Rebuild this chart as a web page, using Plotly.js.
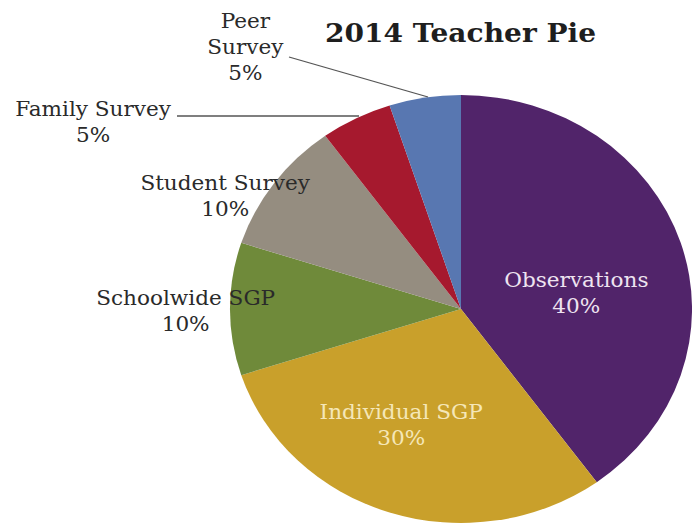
<!DOCTYPE html>
<html>
<head>
<meta charset="utf-8">
<script src="https://cdn.plot.ly/plotly-3.0.1.min.js"></script>
<style>
html,body{margin:0;padding:0;background:#fff;overflow:hidden;}
#chart{width:641px;height:525px;transform:scaleX(1.0796);transform-origin:0 0;}
</style>
</head>
<body>
<div id="chart"></div>
<script>
// Data
const labels = ["Observations", "Individual SGP", "Schoolwide SGP", "Student Survey", "Family Survey", "Peer Survey"];
const values = [40, 30, 10, 10, 5, 5];
const colors = ["#51246A", "#C9A02B", "#6F8A3A", "#958D80", "#A6192E", "#5877B1"];
const titleText = "2014 Teacher Pie";

// Label line breaks as in the reference
const labelLines = {
  "Observations": ["Observations"],
  "Individual SGP": ["Individual SGP"],
  "Schoolwide SGP": ["Schoolwide SGP"],
  "Student Survey": ["Student Survey"],
  "Family Survey": ["Family Survey"],
  "Peer Survey": ["Peer", "Survey"]
};
// label centres in final (displayed) pixels
const labelPos = {
  "Observations": [576, 293],
  "Individual SGP": [401, 425],
  "Schoolwide SGP": [186, 311],
  "Student Survey": [226, 196],
  "Family Survey": [93, 122],
  "Peer Survey": [246, 47]
};
const labelColor = {
  "Observations": "#EEE3F0",
  "Individual SGP": "#F5E7B8"
};

const S = 1.0796;            // horizontal stretch of the reference image
const W = 641, H = 525;      // pre-stretch plot size
const px = x => (x / S) / W; // final px -> paper x
const py = y => 1 - y / H;   // final px -> paper y
const cx = 461, cy = 309, r = 214;

const FONT = "DejaVu Serif, Liberation Serif, serif";
const annotations = [{
  text: "<b>" + titleText + "</b>",
  x: px(460), y: py(33), xref: "paper", yref: "paper",
  showarrow: false, xanchor: "center", yanchor: "middle",
  font: {family: FONT, size: 26, color: "#1e1e1e"}
}];
labels.forEach((lab, i) => {
  const lines = labelLines[lab].concat([values[i] + "%"]);
  const p = labelPos[lab];
  annotations.push({
    text: lines.join("<br>"),
    x: px(p[0]), y: py(p[1]), xref: "paper", yref: "paper",
    showarrow: false, xanchor: "center", yanchor: "middle", align: "center",
    font: {family: FONT, size: 20, color: labelColor[lab] || "#2a2a2a"}
  });
});

const shapes = [
  {type: "line", xref: "paper", yref: "paper", x0: px(289), y0: py(57), x1: px(428), y1: py(97), line: {color: "#555", width: 1.3}},
  {type: "line", xref: "paper", yref: "paper", x0: px(177), y0: py(116), x1: px(359), y1: py(116), line: {color: "#555", width: 1.3}}
];

const cxp = cx / S;
const trace = {
  type: "pie",
  labels: labels,
  values: values,
  marker: {colors: colors, line: {color: "#ffffff", width: 0}},
  sort: false,
  direction: "clockwise",
  rotation: 0,
  textinfo: "none",
  hoverinfo: "label+percent",
  showlegend: false,
  domain: {x: [(cxp - r) / W, (cxp + r) / W], y: [1 - (cy + r) / H, 1 - (cy - r) / H]}
};

Plotly.newPlot("chart", [trace], {
  width: W, height: H,
  margin: {l: 0, r: 0, t: 0, b: 0},
  paper_bgcolor: "#fff",
  showlegend: false,
  annotations: annotations,
  shapes: shapes
}, {displayModeBar: false});
</script>
</body>
</html>
